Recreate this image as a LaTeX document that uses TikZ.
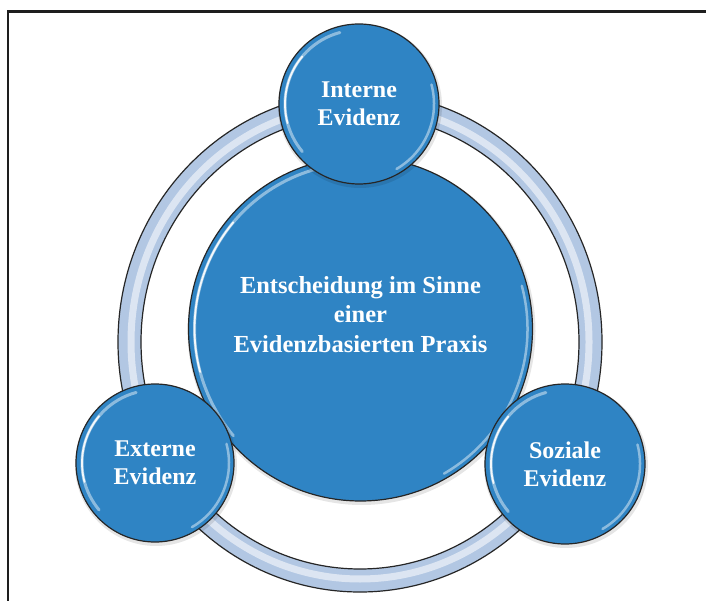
\documentclass[tikz,border=0pt]{standalone}
\usepackage{fontspec}
\setmainfont{Liberation Serif}
\usetikzlibrary{calc}
\definecolor{evblue}{RGB}{47,132,196}
\definecolor{ringfill}{RGB}{178,199,227}
\definecolor{frameblack}{RGB}{30,30,30}
\tikzset{
  evcircle/.style={circle, fill=evblue, draw=black!85, line width=1.2pt, inner sep=0pt},
  evtext/.style={text=white, font=\bfseries\fontsize{24}{28}\selectfont, align=center},
  glossline/.style={draw=white, line cap=round},
  evshadow/.style={fill=black, opacity=0.10},
}
\newcommand{\evgloss}[2]{%
  \draw[glossline, line width=3pt, opacity=0.45] (#1.center) ++(105:#2-6) arc[start angle=105, end angle=220, radius=#2-6];
  \draw[glossline, line width=1.8pt, opacity=0.9] (#1.center) ++(140:#2-6) arc[start angle=140, end angle=195, radius=#2-6];
  \draw[glossline, line width=2.5pt, opacity=0.45] (#1.center) ++(-60:#2-5) arc[start angle=-60, end angle=15, radius=#2-5];
}
\begin{document}
\begin{tikzpicture}[x=1pt, y=1pt]
  \clip (0,0) rectangle (706,600);
  \fill[white] (0,0) rectangle (706,600);
  % frame
  \draw[frameblack, line width=2.4pt] (8,-20) -- (8,588.5) -- (730,588.5);
  % ring
  \coordinate (ringc) at (360,258);
  \fill[ringfill, even odd rule] (ringc) ellipse[x radius=242, y radius=250] (ringc) ellipse[x radius=219, y radius=227];
  \draw[white, opacity=0.55, line width=7pt] (ringc) ellipse[x radius=229, y radius=237];
  \draw[black!85, line width=1.2pt] (ringc) ellipse[x radius=242, y radius=250];
  \draw[black!85, line width=1.2pt] (ringc) ellipse[x radius=219, y radius=227];
  % main circle
  \fill[evshadow] (361.5,269) circle[radius=174];
  \node[evcircle, minimum size=344pt] (main) at (360.5,271) {};
  \evgloss{main}{172}
  \node[evtext, font=\bfseries\fontsize{24.5}{29.5}\selectfont] (maintext) at ($(main.center)+(0,14.5)$) {Entscheidung im Sinne\\einer\\Evidenzbasierten Praxis};
  % top circle
  \fill[evshadow] (360,494) circle[radius=82];
  \node[evcircle, minimum size=160pt, evtext] (intern) at (359,496) {Interne\\Evidenz};
  \evgloss{intern}{80}
  % left circle
  \fill[evshadow] (156,135) circle[radius=81];
  \node[evcircle, minimum size=158pt, evtext] (extern) at (155,137) {Externe\\Evidenz};
  \evgloss{extern}{79}
  % right circle
  \fill[evshadow] (566,134) circle[radius=82];
  \node[evcircle, minimum size=160pt, evtext] (sozial) at (565,136) {Soziale\\Evidenz};
  \evgloss{sozial}{80}
\end{tikzpicture}
\end{document}
